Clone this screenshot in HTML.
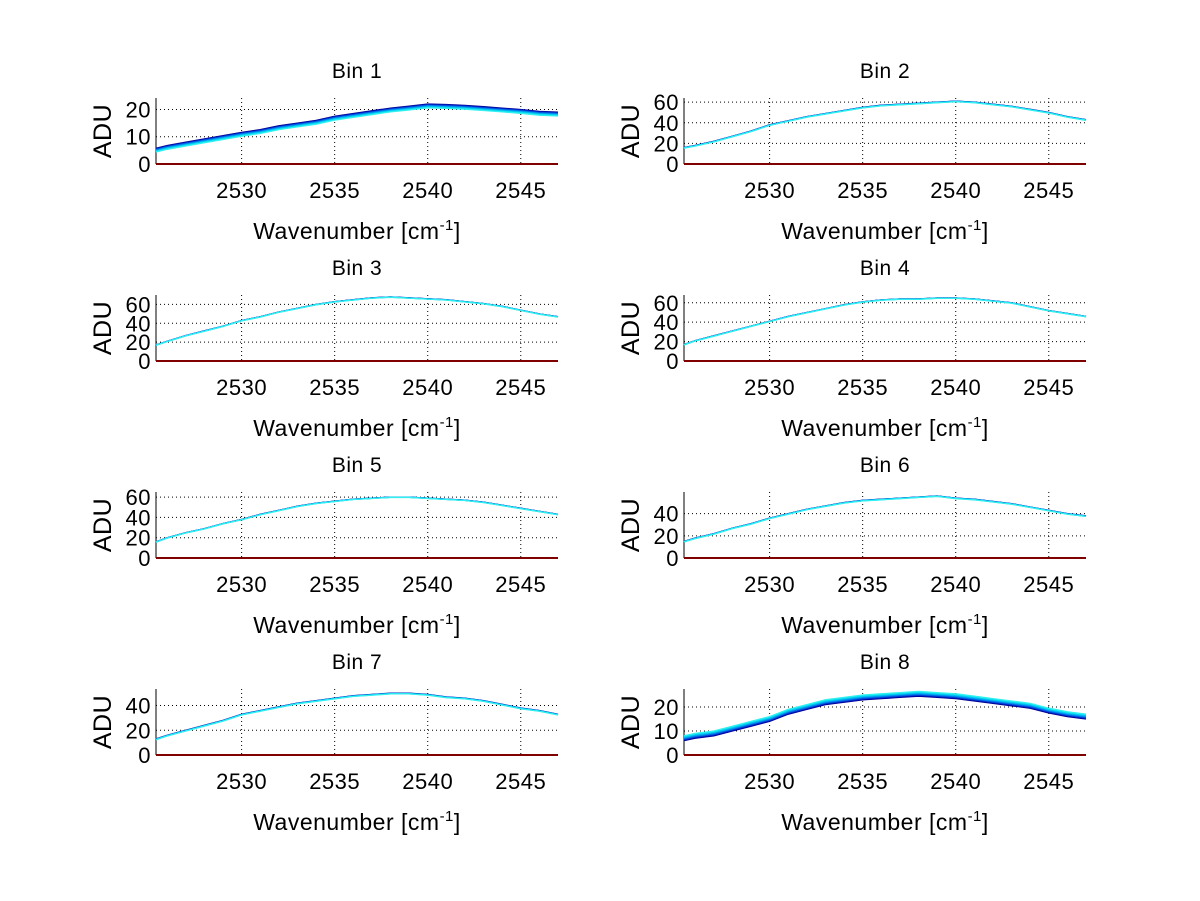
<!DOCTYPE html>
<html><head><meta charset="utf-8"><style>
html,body{margin:0;padding:0;background:#fff;}
svg{display:block;font-family:"Liberation Sans",sans-serif;}
</style></head><body>
<svg id="fig" width="1200" height="901" viewBox="0 0 1200 901" xmlns="http://www.w3.org/2000/svg">
<rect width="1200" height="901" fill="#fff"/>
</svg>
<script>
const wavenumbers=[2525,2526,2527,2528,2529,2530,2531,2532,2533,2534,2535,2536,2537,2538,2539,2540,2541,2542,2543,2544,2545,2546,2547];
const bin1=[5.8,6.8,8,9.2,10.4,11.6,12.6,14,15,16,17.5,18.5,19.5,20.5,21.2,22,21.8,21.5,21,20.5,20,19.3,19];
const bin2=[16,18,22,27,32,38,42,46,49,52,55,57,58,59,60,61,60,58,56,53,50,46,43];
const bin3=[17,21,27,32,37,43,47,52,56,60,63,65,67,68,67,66,65,63,61,58,54,50,47];
const bin4=[17,21,26,31,36,41,46,50,54,58,61,63,64,64,65,65,64,62,60,56,52,49,46];
const bin5=[16,20,25,29,34,38,43,47,51,54,56,58,59,60,60,59,58,57,55,52,49,46,43];
const bin6=[15,18,22,27,31,36,40,44,47,50,52,53,54,55,56,54,53,51,49,46,43,40,38];
const bin7=[13,16,20,24,28,33,36,39,42,44,46,48,49,50,50,49,47,46,44,41,38,36,33];
const bin8=[6,7,8,10,12,14,17,19,21,22,23,23.5,24,24.5,24,23.5,22.5,21.5,20.5,19.5,17.5,16,15];
const bins=[bin1,bin2,bin3,bin4,bin5,bin6,bin7,bin8];
const binTitles=["Bin 1","Bin 2","Bin 3","Bin 4","Bin 5","Bin 6","Bin 7","Bin 8"];
const yMax=[24.2,64,70,68,65,59.5,53.4,27.5];
const yTicks=[[0,10,20],[0,20,40,60],[0,20,40,60],[0,20,40,60],[0,20,40,60],[0,20,40],[0,20,40],[0,10,20]];
const spread=[1.4,0.6,0.4,0.4,0.4,0.5,0.6,2];
const xTicks=[2530,2535,2540,2545];
const xMin=2525.4, xMax=2547;

const NS="http://www.w3.org/2000/svg";
const svg=document.getElementById('fig');
function mk(tag,attrs,parent){const e=document.createElementNS(NS,tag);for(const k in attrs)e.setAttribute(k,attrs[k]);(parent||svg).appendChild(e);return e;}
const colX=[[156,558],[684,1086]];
const rowTop=[98,295,492,689];
const H=66;
const lineColors=["#00009a","#0030d0","#0070e8","#00a8f0","#00d8f0","#30f0f0"];

bins.forEach((vals,i)=>{
  const col=i%2,row=Math.floor(i/2);
  const x0=colX[col][0],x1=colX[col][1],yt=rowTop[row],yb=yt+H;
  const sx=v=>x0+(v-xMin)/(xMax-xMin)*(x1-x0);
  const sy=v=>yb-v/yMax[i]*H;
  const g=mk('g',{});
  
  
  xTicks.forEach(t=>{
    const l=mk('line',{x1:sx(t),x2:sx(t),y1:yt,y2:yb,stroke:'#000','stroke-width':1,'stroke-dasharray':'1,3'},g);
    
    
    const tl=mk('text',{x:sx(t),y:yb+34,'font-size':22,'letter-spacing':0.5,'text-anchor':'middle',fill:'#000'},g);
    tl.textContent=t;
    
    
  });
  yTicks[i].forEach(t=>{
    if(t>0){
      const l=mk('line',{x1:x0,x2:x1,y1:sy(t),y2:sy(t),stroke:'#000','stroke-width':1,'stroke-dasharray':'1,3'},g);
      
      
    }
    const tl=mk('text',{x:x0-5,y:sy(t)+8,'font-size':22,'letter-spacing':0.5,'text-anchor':'end',fill:'#000'},g);
    tl.textContent=t;
    
    
  });
  const ax=mk('line',{x1:x0,x2:x0,y1:yt,y2:yb,stroke:'#000','stroke-width':1},g);
  
  
  lineColors.forEach((c,k)=>{
    const sgn=(i===7?-1:1);
    const d=vals.map((v,j)=>{
      const xv=Math.max(wavenumbers[j],xMin);
      return (j?'L':'M')+sx(xv).toFixed(1)+','+sy(v-sgn*spread[i]*k/(lineColors.length-1)).toFixed(1);
    }).join('');
    const p=mk('path',{d:d,fill:'none',stroke:c,'stroke-width':1.3},g);
    
    
  });
  const z=mk('line',{x1:x0,x2:x1,y1:yb,y2:yb,stroke:'#800000','stroke-width':2},g);
  
  
  const tt=mk('text',{x:(x0+x1)/2,y:yt-20,'font-size':21,'letter-spacing':0.5,'text-anchor':'middle',fill:'#000'},g);
  tt.textContent=binTitles[i];
  
  
  const xl=mk('text',{x:(x0+x1)/2,y:yb+75,'font-size':23,'letter-spacing':0.5,'text-anchor':'middle',fill:'#000'},g);
  
  
  xl.appendChild(document.createTextNode('Wavenumber [cm'));
  const sup=mk('tspan',{dy:-9,'font-size':15},xl);
  sup.textContent='-1';
  const cl=mk('tspan',{dy:9},xl);
  cl.textContent=']';
  const yl=mk('text',{x:0,y:0,'font-size':25,'letter-spacing':0.5,'text-anchor':'middle',fill:'#000',transform:'translate('+(x0-45)+','+(yt+H/2)+') rotate(-90)'},g);
  yl.textContent='ADU';
  
  
});
</script>
</body></html>
